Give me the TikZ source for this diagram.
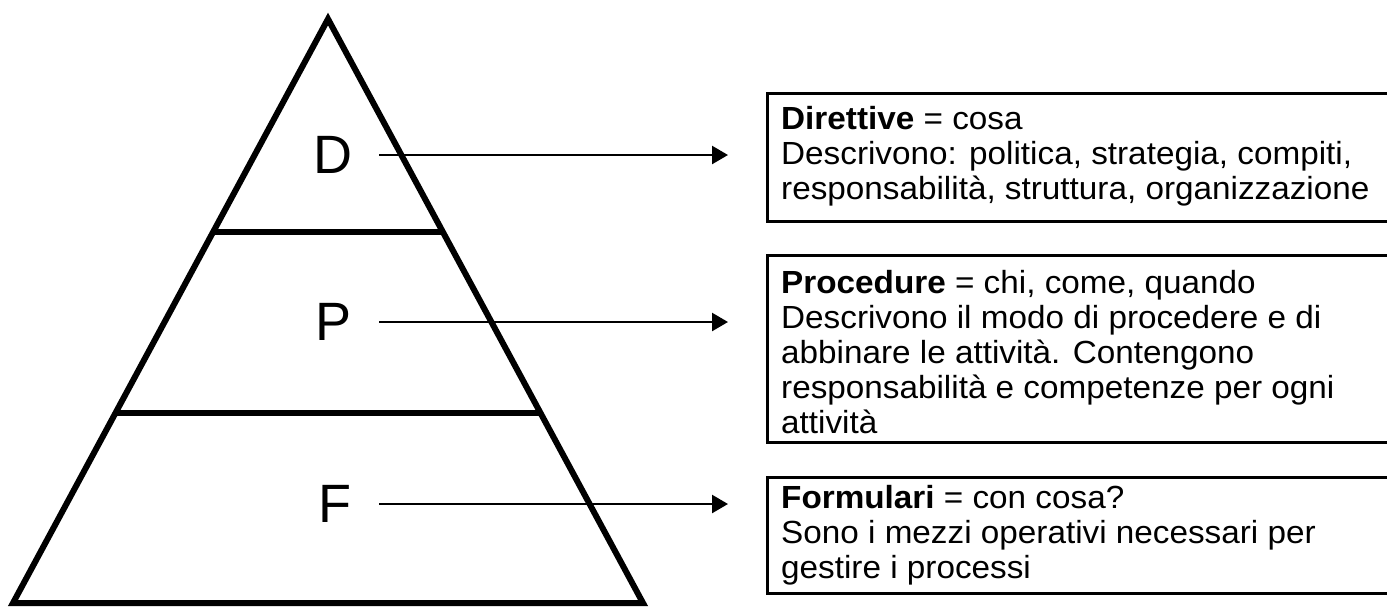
\documentclass[tikz,border=0pt]{standalone}
\usepackage{fontspec}
\setmainfont{Liberation Sans}
\newfontfamily\boxfont{Liberation Sans}[FakeStretch=1.04]
\usetikzlibrary{arrows.meta,calc}

\begin{document}
\begin{tikzpicture}[x=1pt, y=-1pt,
	level/.style={font=\fontsize{54}{54}\selectfont, anchor=west, inner sep=0pt},
	desc/.style={font=\boxfont\fontsize{32}{35}\selectfont, align=left, anchor=north west, inner sep=0pt},
	framebox/.style={draw, line width=3pt, outer sep=0pt, inner sep=0pt, anchor=north west, minimum width=626pt},
	pointer/.style={line width=2.5pt, -{Triangle[length=16pt,width=18pt]}}]
	\useasboundingbox (0,0) rectangle (1387,606);
	\clip (0,0) rectangle (1387,606);

	% pyramid
	\coordinate (top) at (328,19);
	\coordinate (bl) at (13,603);
	\coordinate (br) at (643,603);
	\draw[line width=6pt] (top) -- (bl) -- (br) -- cycle;
	\draw[line width=6pt] ($(top)!0.364!(bl)$) -- ($(top)!0.364!(br)$);
	\draw[line width=6pt] ($(top)!0.675!(bl)$) -- ($(top)!0.675!(br)$);

	\node[level] (d) at (313,155) {D};
	\node[level] (p) at (315,322) {P};
	\node[level] (f) at (318,504) {F};

	% boxes
	\node[framebox, minimum height=128pt] (dirbox) at (767,93) {};
	\node[framebox, minimum height=187pt] (probox) at (767,255) {};
	\node[framebox, minimum height=116pt] (forbox) at (767,477) {};

	\node[desc] (dirtext) at (781,106) {\textbf{Direttive} = cosa\\
		Descrivono: politica, strategia, compiti,\\
		responsabilità, struttura, organizzazione};
	\node[desc] (protext) at (781,270) {\textbf{Procedure} = chi, come, quando\\
		Descrivono il modo di procedere e di\\
		abbinare le attività. Contengono\\
		responsabilità e competenze per ogni\\
		attività};
	\node[desc] (fortext) at (781,485) {\textbf{Formulari} = con cosa?\\
		Sono i mezzi operativi necessari per\\
		gestire i processi};

	% arrows
	\coordinate (dfrom) at (379,155);
	\coordinate (pfrom) at (379,322);
	\coordinate (ffrom) at (379,504);
	\coordinate (dto) at (728,155);
	\coordinate (pto) at (728,322);
	\coordinate (fto) at (728,504);
	\draw[pointer] (dfrom) -- (dto);
	\draw[pointer] (pfrom) -- (pto);
	\draw[pointer] (ffrom) -- (fto);

\end{tikzpicture}
\end{document}
